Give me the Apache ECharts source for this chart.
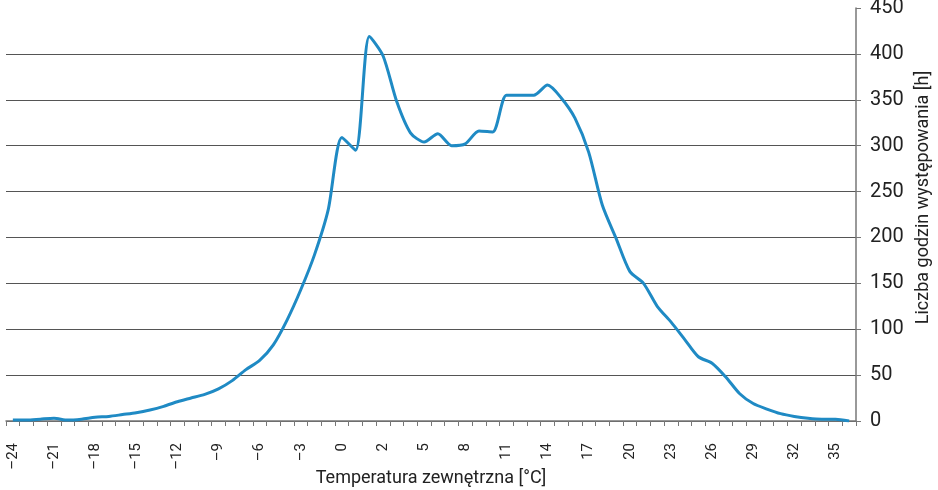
<!DOCTYPE html>
<html>
<head>
<meta charset="utf-8">
<script src="https://cdn.jsdelivr.net/npm/echarts@6/dist/echarts.min.js"></script>
<style>
  html, body { margin: 0; padding: 0; background: #fff; }
  #chart { width: 938px; height: 490px; }
</style>
</head>
<body>
<div id="chart"></div>
<script>
// temperatura zewnętrzna [°C] – kategorie osi X (zero występuje dwukrotnie, tak jak w oryginale)
const categories = [
  '–24', '–23', '–22', '–21', '–20', '–19', '–18', '–17', '–16', '–15',
  '–14', '–13', '–12', '–11', '–10', '–9', '–8', '–7', '–6', '–5',
  '–4', '–3', '–2', '–1', '0', '0', '1', '2', '3', '4',
  '5', '6', '7', '8', '9', '10', '11', '12', '13', '14',
  '15', '16', '17', '18', '19', '20', '21', '22', '23', '24',
  '25', '26', '27', '28', '29', '30', '31', '32', '33', '34',
  '35', '36'
];

// liczba godzin występowania [h]
const hours = [
  1, 1, 2, 3, 1, 2, 4, 5, 7, 9,
  12, 16, 21, 25, 29, 35, 44, 56, 66, 83,
  110, 143, 181, 230, 309, 295, 419, 398, 348, 314,
  304, 313, 300, 302, 316, 315, 355, 355, 355, 366,
  352, 330, 293, 235, 199, 163, 150, 125, 108, 89,
  70, 63, 48, 30, 19, 13, 8, 5, 3, 2,
  2, 0
];

const yTicks = { min: 0, max: 450, interval: 50 };

const font = '"Roboto", "Liberation Sans", sans-serif';

const chart = echarts.init(document.getElementById('chart'));

const option = {
  animation: false,
  grid: { left: 6, right: 82, top: 8, bottom: 69, containLabel: false, outerBoundsMode: 'none' },
  xAxis: {
    type: 'category',
    data: categories,
    boundaryGap: true,
    name: 'Temperatura zewnętrzna [°C]',
    nameLocation: 'middle',
    nameGap: 48,
    nameMoveOverlap: false,
    nameTextStyle: { fontFamily: font, fontSize: 18, color: '#222' },
    axisLine: { lineStyle: { color: '#777', width: 1.5 } },
    axisTick: { show: true, interval: 0, length: 5, lineStyle: { color: '#777' } },
    axisLabel: {
      interval: 2,
      rotate: 90,
      margin: 22,
      fontFamily: font,
      fontSize: 15,
      color: '#222'
    },
    splitLine: { show: false }
  },
  yAxis: {
    type: 'value',
    position: 'right',
    min: yTicks.min,
    max: yTicks.max,
    interval: yTicks.interval,
    name: 'Liczba godzin występowania [h]',
    nameLocation: 'middle',
    nameRotate: 90,
    nameGap: 58,
    nameMoveOverlap: false,
    nameTextStyle: { fontFamily: font, fontSize: 18, color: '#222', padding: [0, 0, 0, 34] },
    axisLine: { show: true, lineStyle: { color: '#777', width: 1.5 } },
    axisTick: { show: true, length: 5, lineStyle: { color: '#777' } },
    axisLabel: { margin: 14, fontFamily: font, fontSize: 20, color: '#222' },
    splitLine: { show: true, showMaxLine: false, lineStyle: { color: '#555', width: 1.2 } }
  },
  series: [
    {
      type: 'line',
      data: hours,
      smooth: 0.25,
      symbol: 'none',
      lineStyle: { color: '#1f8ac4', width: 3 }
    }
  ]
};

chart.setOption(option);
</script>
</body>
</html>
